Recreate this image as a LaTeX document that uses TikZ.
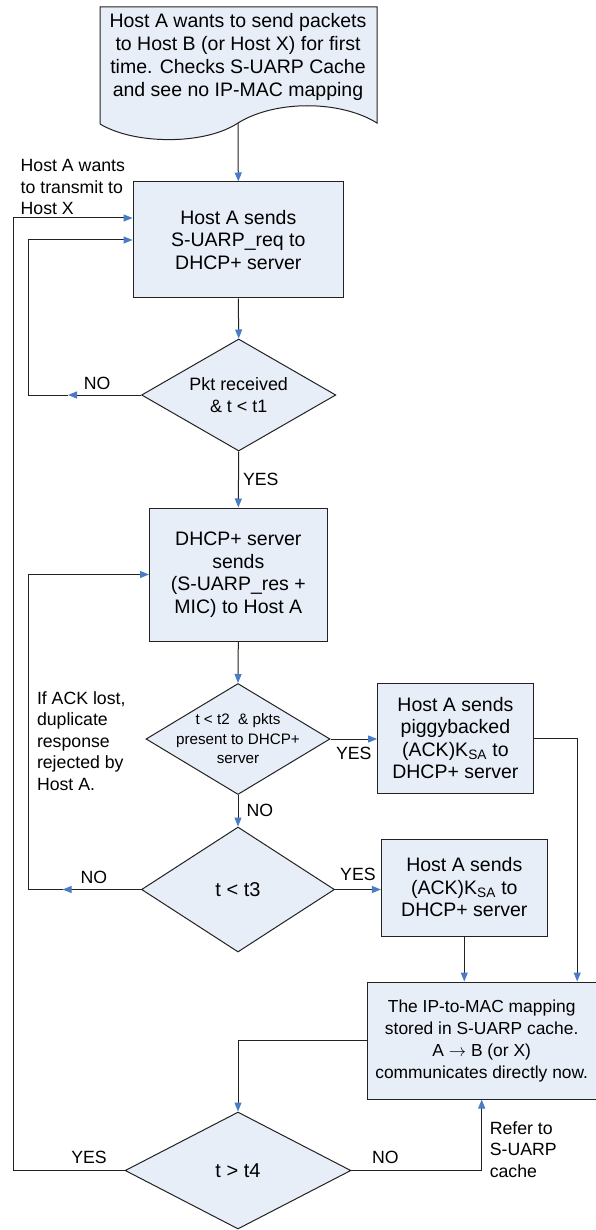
\documentclass[tikz,border=0pt]{standalone}
\usepackage{xcolor}
\usepackage{fontspec}
\setmainfont{Liberation Sans}
\usepackage{tikz}
\usetikzlibrary{positioning, arrows.meta, shapes.geometric}

\definecolor{boxfill}{HTML}{E8EEF8}
\definecolor{tipblue}{HTML}{4A7CC6}
\definecolor{edge}{HTML}{222222}

\begin{document}
\begin{tikzpicture}[
    x=1pt, y=-1pt,
    box/.style={draw=edge, fill=boxfill, line width=1pt, align=center, inner sep=0pt,
                font=\fontsize{19.5pt}{22.5pt}\selectfont},
    dec/.style={diamond, draw=edge, fill=boxfill, line width=1pt, inner sep=0pt},
    dtxt/.style={align=center, inner sep=0pt},
    lbl/.style={inner sep=0pt, font=\fontsize{17.7pt}{21.5pt}\selectfont},
    note/.style={lbl, align=left, anchor=west},
    arr/.style={-{Triangle[length=9pt, width=7pt, color=tipblue]}, line width=1pt, draw=edge}
  ]
  \fill[white] (0,0) rectangle (595,1230);
  \useasboundingbox (0,0) rectangle (595,1230);

  % start sheet with the wavy bottom edge
  \draw[fill=boxfill, draw=edge, line width=1pt]
    (100,7) -- (377,7) -- (377,123)
    .. controls (340,100) and (275,100) .. (238,123)
    .. controls (205,145) and (135,145) .. (100,124) -- cycle;
  \node[dtxt, font=\fontsize{19.5pt}{23pt}\selectfont] (start) at (238,57)
    {Host A wants to send packets\\to Host B (or Host X) for first\\time. Checks S-UARP Cache\\and see no IP-MAC mapping};
  \coordinate (startout) at (238,123);

  \node[box, minimum width=210.5pt, minimum height=116pt] (req) at (238.3,240)
    {Host A sends\\S-UARP\_req to\\DHCP+ server};
  \node[dec, minimum width=194.3pt, minimum height=112pt] (d1) at (238.7,395) {};
  \node[dtxt, font=\fontsize{17.9pt}{22pt}\selectfont] (d1t) at (d1) {Pkt received\\\& t < t1};
  \node[box, minimum width=177.6pt, minimum height=133pt] (res) at (238.3,574.5)
    {DHCP+ server\\sends\\(S-UARP\_res +\\MIC) to Host A};
  \node[dec, minimum width=184pt, minimum height=111pt] (d2) at (238,739) {};
  \node[dtxt, font=\fontsize{15.2pt}{19.5pt}\selectfont] (d2t) at (d2)
    {t < t2~ \& pkts\\present to DHCP+\\server};
  \node[box, minimum width=155.6pt, minimum height=110pt] (piggy) at (455.4,738)
    {Host A sends\\piggybacked\\(ACK)K\textsubscript{SA} to\\DHCP+ server};
  \node[dec, minimum width=193pt, minimum height=125pt] (d3) at (238,889.5) {};
  \node[dtxt, font=\fontsize{20pt}{24pt}\selectfont] (d3t) at (d3) {t < t3};
  \node[box, minimum width=165.8pt, minimum height=97pt] (ack) at (464.3,887.5)
    {Host A sends\\(ACK)K\textsubscript{SA} to\\DHCP+ server};
  \node[box, font=\fontsize{17.4pt}{22pt}\selectfont, minimum width=228.6pt, minimum height=117pt]
    (cache) at (481.7,1040.5)
    {The IP-to-MAC mapping\\stored in S-UARP cache.\\A $\rightarrow$ B (or X)\\communicates directly now.};
  \node[dec, minimum width=225.8pt, minimum height=117pt] (d4) at (238,1170.5) {};
  \node[dtxt, font=\fontsize{20pt}{24pt}\selectfont] (d4t) at (d4) {t > t4};

  \node[note] (newdest) at (20.5,187) {Host A wants\\to transmit to\\Host X};
  \node[note] (acklost) at (36.8,741) {If ACK lost,\\duplicate\\response\\rejected by\\Host A.};
  \node[note] (refer) at (489.6,1149.5) {Refer to\\S-UARP\\cache};

  % return rails on the left
  \coordinate (loopin) at (28.5,0);
  \coordinate (loopout) at (13.3,0);
  \coordinate (no1) at (68,395);
  \coordinate (no3) at (62.6,889.5);

  \draw[arr] (startout) -- (req.north);
  \draw[arr] (req.south) -- (d1.north);
  \draw[arr] (d1.south) -- node[lbl, right=4pt] {YES} (res.north);
  \draw[arr] (d1.west) -- node[lbl, above=5pt, pos=0.6] {NO} (no1);
  \draw[arr] (no1) -- (no1 -| loopin) |- (req.west);
  \draw[arr] (res.south) -- (d2.north);
  \draw[arr] (d2.east) -- node[lbl, below=8pt] {YES} (d2.east -| piggy.west);
  \draw[arr] (d2.south) -- node[lbl, right=8pt] {NO} (d3.north);
  \draw[arr] (d3.east) -- node[lbl, above=8pt] {YES} (d3.east -| ack.west);
  \draw[arr] (d3.west) -- node[lbl, above=5pt, pos=0.6] {NO} (no3);
  \draw[arr] (no3) -- (no3 -| loopin) |- (res.west);
  \draw[arr] (piggy.east) -| ([xshift=95.5pt]cache.north);
  \draw[arr] (ack.south) -- (ack.south |- cache.north);
  \draw[arr] (cache.west) -| (d4.north);
  \draw[arr] (d4.east) -| node[lbl, above=6pt, pos=0.13] {NO} (cache.south);
  \draw[arr] (d4.west) -- node[lbl, above=6pt, pos=0.32] {YES} (d4.west -| loopout)
    |- ([yshift=22pt]req.west);
\end{tikzpicture}
\end{document}
